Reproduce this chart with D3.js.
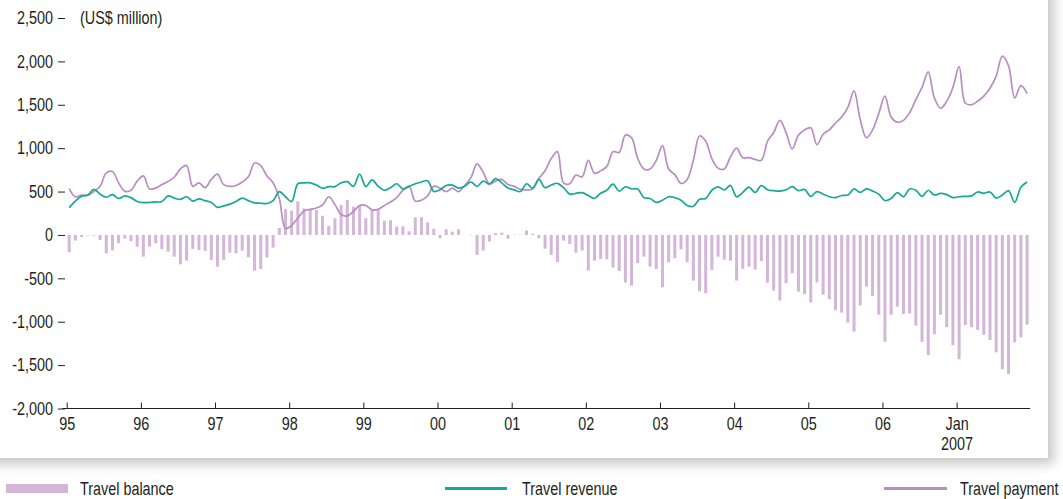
<!DOCTYPE html>
<html><head><meta charset="utf-8">
<script src="https://cdn.jsdelivr.net/npm/d3@7"></script>
<style>
html,body{margin:0;padding:0;background:#fff;}
svg{display:block;font-family:"Liberation Sans","Arial",sans-serif;}
</style></head><body>
<svg id="chart" width="1063" height="499"></svg>
<script>
// ---- data (monthly, Jan 1995 – Dec 2007, US$ million) ----
const yearLabels = ["95","96","97","98","99","00","01","02","03","04","05","06","Jan"];
const yTicks = [2500,2000,1500,1000,500,0,-500,-1000,-1500,-2000];
const unitLabel = "(US$ million)";
const legendLabels = ["Travel balance","Travel revenue","Travel payment"];

const balance = [
 -200,-65,-25,-8,-8,-58,-211,-178,-96,-42,-72,-135,
 -250,-134,-96,-165,-192,-250,-338,-296,-161,-173,-184,-288,
 -365,-288,-204,-211,-180,-257,-411,-392,-261,-146,80,300,
 280,388,307,292,288,221,104,192,346,403,326,346,
 192,294,285,163,169,96,100,42,202,204,144,69,
 -38,65,38,65,0,-5,-230,-180,-77,23,27,-44,
 4,4,52,14,-38,-158,-230,-313,-65,-104,-204,-180,
 -411,-296,-276,-280,-376,-415,-549,-584,-326,-250,-365,-392,
 -603,-315,-269,-165,-315,-526,-650,-672,-403,-250,-285,-296,
 -526,-390,-365,-400,-300,-549,-641,-756,-557,-442,-653,-682,
 -778,-547,-688,-741,-868,-895,-1010,-1114,-812,-595,-701,-920,
 -1231,-920,-826,-910,-906,-1044,-1231,-1384,-1144,-920,-1064,-1271,
 -1432,-1037,-1064,-1094,-1150,-1210,-1352,-1548,-1601,-1236,-1179,-1033
];
const revenue = [
 315,390,445,460,525,470,435,465,420,450,430,385,
 372,375,380,385,450,425,410,440,390,415,395,375,
 318,335,355,385,425,395,370,365,362,395,500,440,
 385,590,600,600,575,538,557,557,600,614,560,700,
 557,634,560,515,545,590,530,560,590,610,625,500,
 520,570,575,540,560,610,560,620,585,650,600,540,
 520,500,590,540,640,545,575,595,545,470,480,488,
 455,420,480,515,585,505,555,530,530,430,420,375,
 400,440,430,400,340,330,410,420,515,555,520,570,
 440,490,550,490,570,520,510,505,520,556,510,525,
 445,500,470,440,430,455,460,530,490,530,505,470,
 395,420,488,440,530,515,445,515,460,480,465,430,
 440,445,450,495,480,495,425,460,510,375,550,610
];
const payment = [
 535,440,460,455,500,560,715,730,600,505,515,620,
 680,530,540,580,615,665,760,800,560,600,545,640,
 700,580,560,570,610,670,830,800,680,600,420,75,
 110,195,275,295,310,345,440,350,235,220,270,340,
 340,290,295,340,380,430,515,560,390,400,450,560,
 540,500,540,500,570,660,820,720,590,620,640,580,
 560,525,520,530,650,740,880,960,600,590,690,670,
 860,710,740,790,960,950,1150,1120,880,760,760,860,
 1030,760,695,595,640,860,1140,1080,880,770,760,900,
 1000,890,890,870,860,1080,1180,1320,1180,990,1150,1210,
 1235,1040,1160,1210,1290,1360,1470,1660,1330,1120,1210,1400,
 1600,1360,1300,1320,1410,1560,1700,1880,1580,1460,1540,1700,
 1940,1520,1500,1540,1600,1690,1830,2060,1950,1580,1720,1630
];

// ---- styles ----
const barColor = "#d3b6d8", revColor = "#16a994", payColor = "#b98dc3", textColor = "#231f20";
const FS = 18, SX = 0.8; // font size and horizontal condensing

// condense a text selection horizontally about its anchor x
function condense(sel) {
  sel.each(function() {
    const t = d3.select(this);
    const x0 = +(t.attr("x") || 0);
    t.attr("transform", `translate(${x0 * (1 - SX)},0) scale(${SX},1)`);
  });
}

const svg = d3.select("#chart");
const defs = svg.append("defs");
const f = defs.append("filter").attr("id","sh").attr("x","-10%").attr("y","-10%").attr("width","130%").attr("height","130%");
f.append("feDropShadow").attr("dx",6).attr("dy",6).attr("stdDeviation",6).attr("flood-color","#000").attr("flood-opacity",0.22);
svg.append("rect").attr("x",-20).attr("y",-20).attr("width",1068).attr("height",478)
  .attr("fill","#fff").attr("filter","url(#sh)");

const n = balance.length;
const x = d3.scaleLinear().domain([-0.4, n - 1]).range([66.7, 66.7 + (n - 0.6) * 6.18]);
const y = d3.scaleLinear().domain([-2000, 2500]).range([408.5, 18]);
const idx = d3.range(n);

// bars
svg.append("g").selectAll("rect").data(idx).join("rect")
  .attr("x", i => x(i) - 1.5).attr("width", 3)
  .attr("y", i => y(Math.max(0, balance[i])))
  .attr("height", i => Math.abs(y(balance[i]) - y(0)))
  .attr("fill", barColor);

// lines
const line = arr => d3.line().x(i => x(i)).y(i => y(arr[i])).curve(d3.curveCatmullRom.alpha(0.5))(idx);
svg.append("path").attr("d", line(payment)).attr("fill","none").attr("stroke",payColor).attr("stroke-width",1.7);
svg.append("path").attr("d", line(revenue)).attr("fill","none").attr("stroke",revColor).attr("stroke-width",1.7);

// y axis
const yAxis = svg.append("g").attr("transform","translate(65,0)")
  .call(d3.axisLeft(y).tickValues(yTicks).tickSize(7).tickPadding(5)
        .tickFormat(d => d3.format(",")(d).replace("\u2212","-")));
yAxis.select(".domain").remove();
yAxis.selectAll("line").attr("stroke", textColor);
yAxis.selectAll("text").attr("font-size", FS).attr("fill", textColor).call(condense);
yAxis.attr("font-family", null);

svg.append("text").attr("x", 80).attr("y", y(2500)).attr("dy","0.32em")
  .attr("font-size", FS).attr("fill", textColor).text(unitLabel).call(condense);

// x axis
const tickVals = yearLabels.map((d, k) => 12 * k - 0.4);
const xAxis = svg.append("g").attr("transform", `translate(0,${y(-2000)})`)
  .call(d3.axisBottom(x).tickValues(tickVals).tickSizeInner(-6).tickSizeOuter(0).tickPadding(9)
        .tickFormat((d, k) => yearLabels[k]));
xAxis.attr("font-family", null);
xAxis.select(".domain").remove();
xAxis.append("line").attr("x1", x(-1.1)).attr("x2", x(n - 0.5)).attr("stroke", textColor).attr("stroke-width", 1.2);
xAxis.selectAll(".tick line").attr("stroke", textColor);
xAxis.selectAll("text").attr("font-size", FS).attr("fill", textColor).call(condense);
xAxis.selectAll(".tick").filter((d, k) => k === yearLabels.length - 1).select("text")
  .append("tspan").attr("x", 0).attr("dy", "1.1em").text("2007");

// legend
const lg = svg.append("g").attr("font-size", FS).attr("fill", textColor);
lg.append("rect").attr("x", 6).attr("y", 484).attr("width", 62).attr("height", 9).attr("fill", barColor);
lg.append("text").attr("x", 80).attr("y", 495).text(legendLabels[0]);
lg.append("line").attr("x1", 445).attr("x2", 507).attr("y1", 488.5).attr("y2", 488.5).attr("stroke", revColor).attr("stroke-width", 3);
lg.append("text").attr("x", 522).attr("y", 495).text(legendLabels[1]);
lg.append("line").attr("x1", 884).attr("x2", 947).attr("y1", 488.5).attr("y2", 488.5).attr("stroke", payColor).attr("stroke-width", 3);
lg.append("text").attr("x", 960).attr("y", 495).text(legendLabels[2]);
lg.selectAll("text").call(condense);
</script>
</body></html>
